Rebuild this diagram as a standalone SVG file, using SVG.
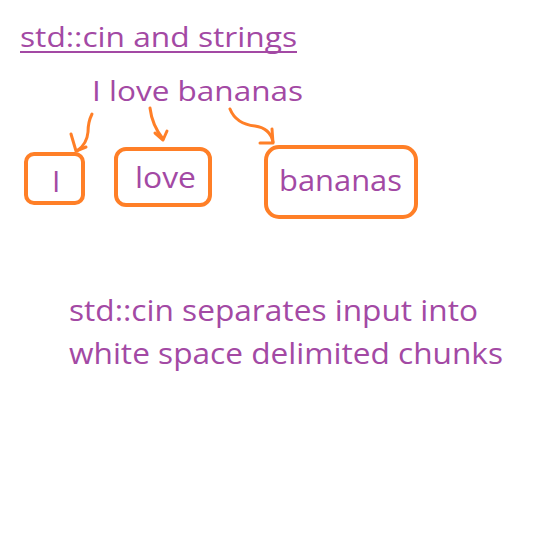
<svg xmlns="http://www.w3.org/2000/svg" width="540" height="552" viewBox="0 0 540 552">
<style>
.t{font-family:"Open Sans","Noto Sans",sans-serif;fill:#A349A4}
.box{fill:none;stroke:#FF7F27;stroke-width:4}
.arr{fill:none;stroke:#FF7F27;stroke-width:3;stroke-linecap:round;stroke-linejoin:round}
</style>
<rect width="540" height="552" fill="#fff"/>
<g id="title">
<text class="t" x="20" y="47" font-size="27" textLength="277" lengthAdjust="spacingAndGlyphs">std::cin and strings</text>
<line x1="20" y1="52" x2="297" y2="52" stroke="#A349A4" stroke-width="2"/>
</g>
<g id="sentence">
<text class="t" x="92" y="101" font-size="28" textLength="211" lengthAdjust="spacingAndGlyphs">I love bananas</text>
</g>
<g id="node-I">
<rect class="box" x="26" y="154" width="57" height="49" rx="8"/>
<text class="t" x="52" y="192" font-size="30">I</text>
</g>
<g id="node-love">
<rect class="box" x="116" y="149" width="94" height="56" rx="10"/>
<text class="t" x="135" y="188" font-size="30" textLength="61" lengthAdjust="spacingAndGlyphs">love</text>
</g>
<g id="node-bananas">
<rect class="box" x="266" y="147" width="150" height="70" rx="13"/>
<text class="t" x="279" y="191" font-size="30" textLength="123" lengthAdjust="spacingAndGlyphs">bananas</text>
</g>
<g id="connectors">
<path class="arr" d="M92,114 Q88,122 88,132 Q87,144 77,151"/>
<path class="arr" d="M71,134 L76,151 L86,147"/>
<path class="arr" d="M150,108 Q152,125 163,139"/>
<path class="arr" d="M155,133 L163,140 L167,131"/>
<path class="arr" d="M230,109 Q236,124 255,126 Q270,128 273,142"/>
<path class="arr" d="M260,143 L273,143 L272,129"/>
</g>
<g id="caption">
<text class="t" x="69" y="321" font-size="30" textLength="409" lengthAdjust="spacingAndGlyphs">std::cin separates input into</text>
<text class="t" x="69" y="364" font-size="30" textLength="434" lengthAdjust="spacingAndGlyphs">white space delimited chunks</text>
</g>
</svg>
